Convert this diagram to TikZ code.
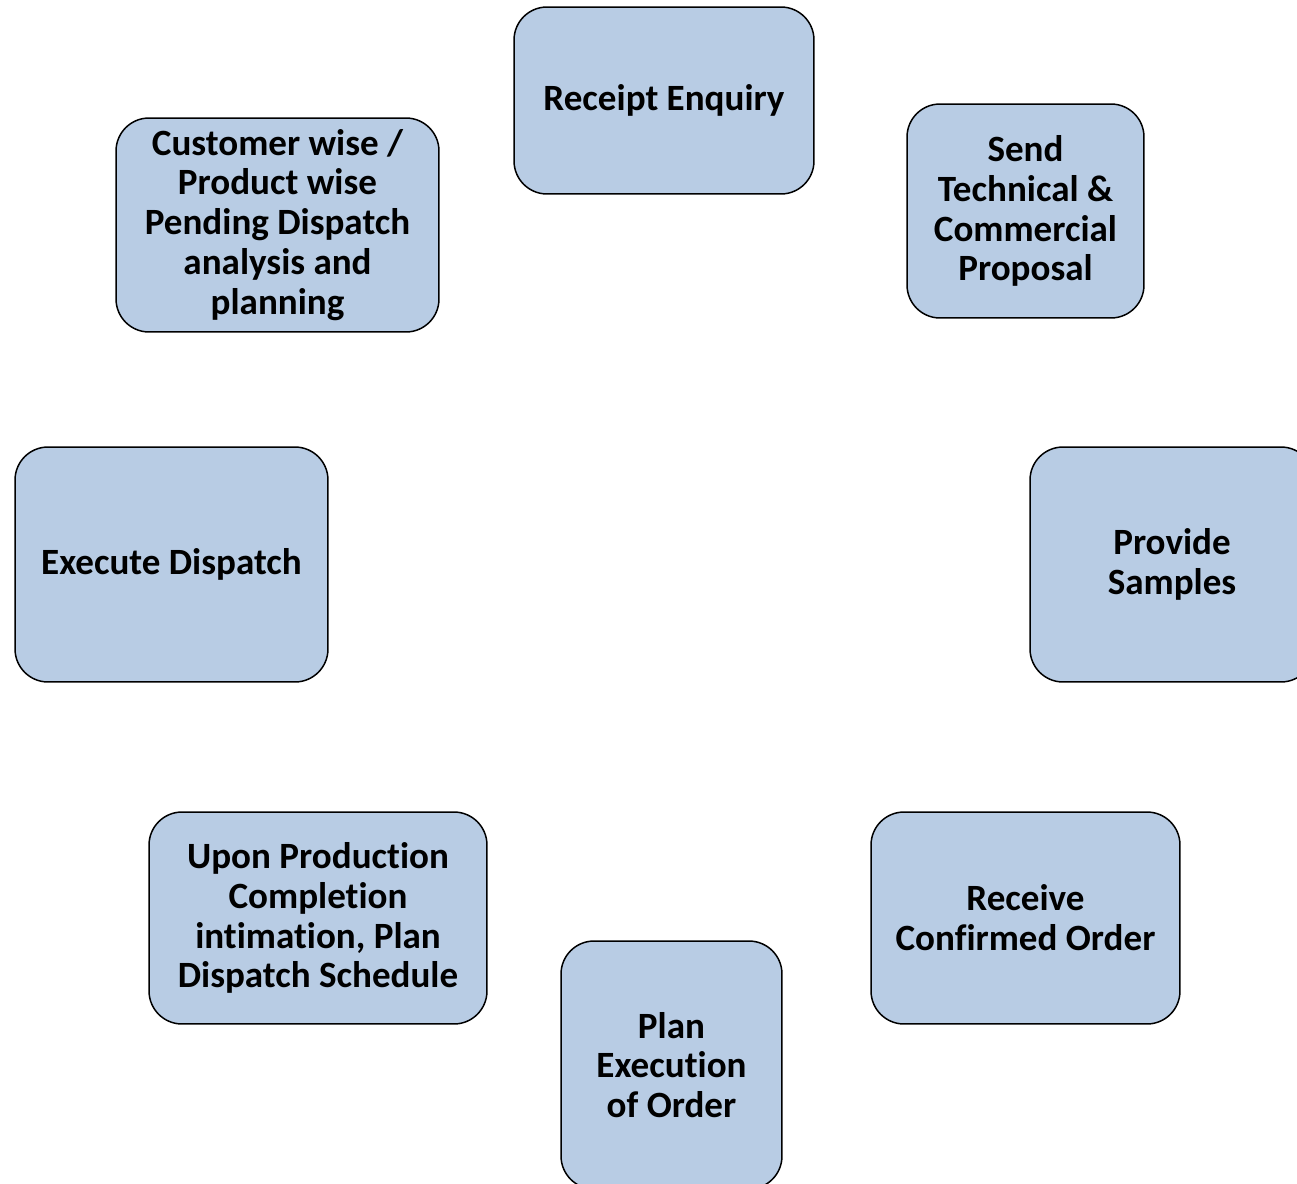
\documentclass[tikz,border=0pt]{standalone}
\usepackage{fontspec}
\setmainfont{Carlito}[Ligatures=CommonOff]
\definecolor{boxblue}{HTML}{B8CCE4}

\begin{document}
\begin{tikzpicture}[x=0.02cm, y=-0.02cm,
  stage/.style={draw, line width=0.85pt, fill=boxblue, rounded corners=0.66cm,
    align=center, inner sep=0pt, font=\fontsize{21.1}{22.7}\selectfont\bfseries}]
\useasboundingbox (0,0) rectangle (1297,1183);
\clip (0,0) rectangle (1297,1183);

\node[stage, minimum width=6cm, minimum height=3.74cm] (enquiry) at (664,100.5) {Receipt Enquiry};
\node[stage, minimum width=4.74cm, minimum height=4.28cm] (proposal) at (1025.5,211) {Send\\Technical \&\\Commercial\\Proposal};
\node[stage, minimum width=5.68cm, minimum height=4.7cm] (samples) at (1172,564.5) {Provide\\Samples};
\node[stage, minimum width=6.18cm, minimum height=4.24cm] (order) at (1025.5,918) {Receive\\Confirmed Order};

\node[stage, minimum width=4.42cm, minimum height=4.96cm] (execution) at (671.5,1065) {Plan\\Execution\\of Order};
\node[stage, minimum width=6.76cm, minimum height=4.24cm] (schedule) at (318,918) {Upon Production\\Completion\\intimation, Plan\\Dispatch Schedule};
\node[stage, minimum width=6.26cm, minimum height=4.7cm] (dispatch) at (171.5,564.5) {Execute Dispatch};
\node[stage, minimum width=6.46cm, minimum height=4.28cm] (pending) at (277.5,225) {Customer wise /\\Product wise\\Pending Dispatch\\analysis and\\planning};
\end{tikzpicture}
\end{document}
